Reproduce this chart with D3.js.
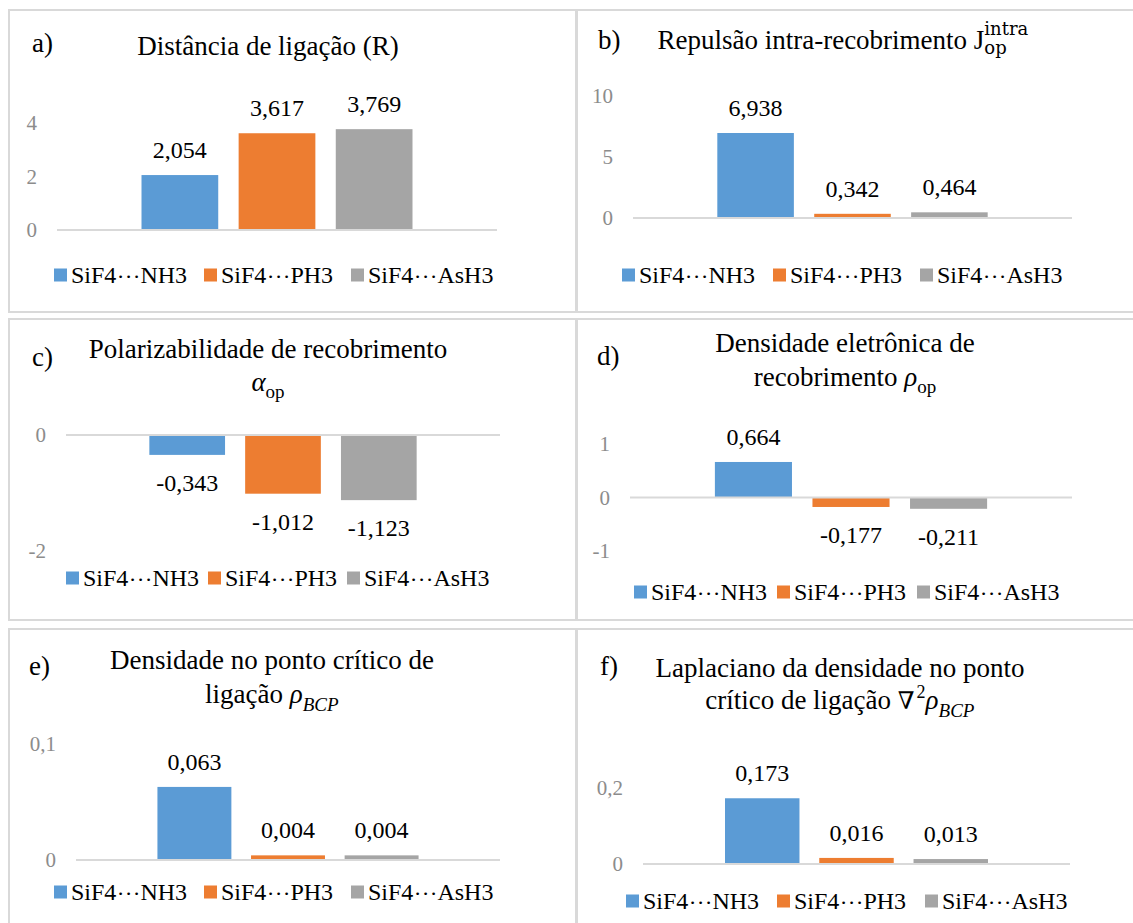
<!DOCTYPE html>
<html>
<head>
<meta charset="utf-8">
<script src="https://cdn.jsdelivr.net/npm/d3@7"></script>
<style>
  body { margin: 0; background: #fff; }
  svg { display: block; }
</style>
</head>
<body>
<svg id="chart" width="1133" height="923"></svg>
<script>
// ---- data ----
const seriesNames = ["SiF4\u22EFNH3", "SiF4\u22EFPH3", "SiF4\u22EFAsH3"];

const valuesA = [2.054, 3.617, 3.769];
const valuesB = [6.938, 0.342, 0.464];
const valuesC = [-0.343, -1.012, -1.123];
const valuesD = [0.664, -0.177, -0.211];
const valuesE = [0.063, 0.004, 0.004];
const valuesF = [0.173, 0.016, 0.013];

const domainA = [0, 4],    ticksA = [0, 2, 4];
const domainB = [0, 10],   ticksB = [0, 5, 10];
const domainC = [-2, 0],   ticksC = [-2, 0];
const domainD = [-1, 1],   ticksD = [-1, 0, 1];
const domainE = [0, 0.1],  ticksE = [0, 0.1];
const domainF = [0, 0.2],  ticksF = [0, 0.2];

const panelLetters = ["a)", "b)", "c)", "d)", "e)", "f)"];

// title lines: runs of [text, kind]
const titleA = [[["Distância de ligação (R)", "n"]]];
const titleB = [[["Repulsão intra-recobrimento J", "n"], ["intra", "supM"], ["op", "subStackM"]]];
const titleC = [[["Polarizabilidade de recobrimento", "n"]], [["α", "i"], ["op", "sub"]]];
const titleD = [[["Densidade eletrônica de", "n"]], [["recobrimento ", "n"], ["ρ", "i"], ["op", "sub"]]];
const titleE = [[["Densidade no ponto crítico de", "n"]], [["ligação ", "n"], ["ρ", "i"], ["BCP", "subI"]]];
const titleF = [[["Laplaciano da densidade no ponto", "n"]], [["crítico de ligação ", "n"], ["∇", "nabla"], ["2", "sup"], ["ρ", "i"], ["BCP", "subI"]]];

// ---- styling ----
const colors = ["#5B9BD5", "#ED7D31", "#A5A5A5"];
const SERIF = '"Liberation Serif", "Times New Roman", serif';
const MATH = '"DejaVu Serif", serif';
const DOTS = '"FreeSerif", "Liberation Serif", serif';

// ---- layout of each panel ----
const panels = [
  { values: valuesA, domain: domainA, ticks: ticksA, title: titleA,
    box: [9, 10, 567, 302], px: [57, 497], py: [230, 123],
    letter: [32, 52], titleX: 268, titleY: [55], legendX: [54, 204, 351], legendY: 275 },
  { values: valuesB, domain: domainB, ticks: ticksB, title: titleB,
    box: [577, 10, 580, 302], px: [633, 1072], py: [218, 95.5],
    letter: [598, 49], titleX: 843, titleY: [49], legendX: [622, 773, 920], legendY: 275 },
  { values: valuesC, domain: domainC, ticks: ticksC, title: titleC,
    box: [9, 319, 567, 301], px: [66, 500], py: [551, 435],
    letter: [32, 366], titleX: 268, titleY: [358, 391], legendX: [66, 208, 347], legendY: 578 },
  { values: valuesD, domain: domainD, ticks: ticksD, title: titleD,
    box: [577, 319, 580, 301], px: [630, 1072], py: [551, 444],
    letter: [597, 365], titleX: 845, titleY: [352, 386], legendX: [634, 777, 917], legendY: 592 },
  { values: valuesE, domain: domainE, ticks: ticksE, title: titleE,
    box: [9, 629, 567, 310], px: [76, 500], py: [860, 744],
    letter: [29, 675], titleX: 272, titleY: [669, 703], legendX: [54, 204, 351], legendY: 892 },
  { values: valuesF, domain: domainF, ticks: ticksF, title: titleF,
    box: [577, 629, 580, 310], px: [643, 1070], py: [864, 788],
    letter: [600, 675], titleX: 840, titleY: [677, 709], legendX: [626, 777, 925], legendY: 901 }
];

const locale = d3.formatLocale({ decimal: ",", thousands: ".", grouping: [3], currency: ["", ""], minus: "-" });
const fmtValue = locale.format(".3f");
const fmtTick = locale.format("~g");

const svg = d3.select("#chart");

// run styles for titles
const runStyle = {
  n:         { fam: SERIF, size: 27, style: "normal", dy: 0 },
  i:         { fam: SERIF, size: 27, style: "italic", dy: 0 },
  nabla:     { fam: MATH,  size: 24, style: "italic", dy: 0 },
  sub:       { fam: SERIF, size: 19, style: "normal", dy: 7 },
  subI:      { fam: SERIF, size: 19, style: "italic", dy: 8 },
  sup:       { fam: SERIF, size: 18, style: "normal", dy: -11, dx: 2 },
  supM:      { fam: MATH,  size: 18, style: "normal", dy: -14 },
  subStackM: { fam: MATH,  size: 18, style: "normal", dy: 5 }
};

function drawTitleLine(g, runs, cx, baseline) {
  const t = g.append("text").attr("x", 0).attr("y", 0)
    .style("font-family", SERIF).attr("fill", "#000");
  let cur = 0;
  let lastSup = null;
  runs.forEach(([txt, kind]) => {
    const st = runStyle[kind];
    const ts = t.append("tspan")
      .style("font-family", st.fam)
      .style("font-size", st.size + "px")
      .style("font-style", st.style)
      .attr("dy", st.dy - cur)
      .text(txt);
    if (st.dx) ts.attr("dx", st.dx);
    if (kind === "subStackM" && lastSup) {
      ts.attr("dx", -lastSup.node().getComputedTextLength());
    }
    lastSup = (kind === "supM") ? ts : null;
    cur = st.dy;
  });
  const bb = t.node().getBBox();
  t.attr("transform", `translate(${cx - (bb.x + bb.width / 2)},${baseline})`);
}

// legend entry: the dots are set in a face that carries the ⋯ glyph
function legendText(sel, name) {
  const parts = name.split("\u22EF");
  sel.append("tspan").text(parts[0]);
  sel.append("tspan").style("font-family", DOTS).text("\u22EF");
  sel.append("tspan").text(parts[1]);
}

panels.forEach((p, idx) => {
  const g = svg.append("g");
  const [bx, by, bw, bh] = p.box;

  g.append("rect")
    .attr("x", bx).attr("y", by).attr("width", bw).attr("height", bh)
    .attr("fill", "#fff").attr("stroke", "#D9D9D9").attr("stroke-width", 2);

  const x = d3.scaleBand().domain(seriesNames).range(p.px)
    .paddingInner(0.21).paddingOuter(0.87);
  const y = d3.scaleLinear().domain(p.domain).range(p.py);

  // panel letter
  g.append("text")
    .attr("x", p.letter[0]).attr("y", p.letter[1])
    .style("font-family", SERIF).style("font-size", "27px").attr("fill", "#000")
    .text(panelLetters[idx]);

  // title
  p.title.forEach((line, li) => drawTitleLine(g, line, p.titleX, p.titleY[li]));

  // value-axis tick labels
  g.selectAll(".tick").data(p.ticks).join("text")
    .attr("x", p.px[0] - 20).attr("y", d => y(d)).attr("dy", "0.35em")
    .attr("text-anchor", "end")
    .style("font-family", SERIF).style("font-size", "21px").attr("fill", "#8C8C8C")
    .text(d => fmtTick(d));

  // bars
  const data = seriesNames.map((s, i) => ({ s, v: p.values[i], c: colors[i] }));
  g.selectAll(".bar").data(data).join("rect")
    .attr("x", d => x(d.s))
    .attr("width", x.bandwidth())
    .attr("y", d => y(Math.max(0, d.v)))
    .attr("height", d => Math.abs(y(d.v) - y(0)))
    .attr("fill", d => d.c);

  // zero line
  g.append("line")
    .attr("x1", p.px[0]).attr("x2", p.px[1])
    .attr("y1", y(0)).attr("y2", y(0))
    .attr("stroke", "#D9D9D9").attr("stroke-width", 2);

  // data labels
  g.selectAll(".lbl").data(data).join("text")
    .attr("x", d => x(d.s) + x.bandwidth() / 2)
    .attr("y", d => d.v >= 0 ? y(d.v) - 17 : y(d.v) + 36)
    .attr("text-anchor", "middle")
    .style("font-family", SERIF).style("font-size", "24px").attr("fill", "#000")
    .text(d => fmtValue(d.v));

  // legend
  const ly = p.legendY;
  seriesNames.forEach((s, i) => {
    const lx = p.legendX[i];
    g.append("rect")
      .attr("x", lx).attr("y", ly - 6.5).attr("width", 13).attr("height", 13)
      .attr("fill", colors[i]);
    const t = g.append("text")
      .attr("x", lx + 17).attr("y", ly + 8)
      .style("font-family", SERIF).style("font-size", "24px").attr("fill", "#000");
    legendText(t, s);
  });
});
</script>
</body>
</html>
